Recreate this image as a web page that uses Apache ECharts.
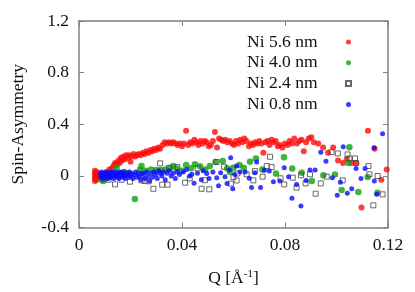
<!DOCTYPE html>
<html><head><meta charset="utf-8">
<script src="https://cdn.jsdelivr.net/npm/echarts@6/dist/echarts.min.js"></script>
<style>html,body{margin:0;padding:0;background:#fff}#c{width:415px;height:292px}</style>
</head><body><div id="c"></div>
<script>
const seriesNames = ['Ni 5.6 nm', 'Ni 4.0 nm', 'Ni 2.4 nm', 'Ni 0.8 nm'];
const xTicks = [0, 0.04, 0.08, 0.12];
const yTicks = [-0.4, 0, 0.4, 0.8, 1.2];

const ni56 = [
[0.0062,0.04],[0.0062,0.02],[0.0062,0.0],[0.0062,-0.02],[0.0062,-0.04],[0.0068,0.03],[0.0068,0.01],[0.0068,-0.01],[0.0068,-0.03],[0.0074,0.02],[0.0074,-0.01],[0.0080,0.0],
[0.0095,0.01],[0.0105,0.03],[0.0118,0.05],[0.0128,0.06],[0.0135,0.08],[0.0140,0.10],[0.0147,0.09],[0.0153,0.12],[0.0158,0.10],[0.0163,0.14],[0.0168,0.12],[0.0173,0.15],[0.0178,0.13],[0.0183,0.16],[0.0190,0.14],[0.0195,0.16],[0.0200,0.11],[0.0205,0.15],[0.0212,0.17],[0.0218,0.15],[0.0225,0.16],[0.0232,0.17],[0.0240,0.16],[0.0248,0.18],[0.0255,0.17],[0.0262,0.19],[0.0270,0.18],[0.0278,0.20],[0.0285,0.19],[0.0292,0.21],[0.0300,0.20],[0.0308,0.22],[0.0315,0.21],[0.0325,0.24],[0.0333,0.26],[0.0342,0.25],[0.0350,0.26],[0.0358,0.25],[0.0366,0.26],[0.0375,0.25],[0.0383,0.24],[0.0392,0.25],[0.0400,0.23],[0.0408,0.25],[0.0416,0.35],[0.0424,0.24],[0.0432,0.26],[0.0440,0.25],[0.0448,0.28],[0.0456,0.26],[0.0464,0.24],[0.0472,0.27],[0.0480,0.25],[0.0488,0.27],[0.0496,0.26],[0.0504,0.23],[0.0512,0.24],[0.0520,0.27],[0.0528,0.34],[0.0536,0.22],[0.0544,0.29],[0.0552,0.28],[0.0560,0.27],[0.0568,0.28],[0.0576,0.26],[0.0585,0.27],[0.0594,0.25],[0.0602,0.24],[0.0610,0.27],[0.0618,0.25],[0.0626,0.28],[0.0634,0.26],[0.0642,0.29],[0.0650,0.27],[0.0660,0.23],[0.0668,0.25],[0.0676,0.24],[0.0684,0.26],[0.0692,0.25],[0.0700,0.27],[0.0708,0.25],[0.0716,0.18],[0.0724,0.26],[0.0732,0.27],[0.0740,0.24],[0.0748,0.28],[0.0756,0.26],[0.0764,0.27],[0.0772,0.23],[0.0780,0.24],[0.0790,0.22],[0.0800,0.25],[0.0810,0.24],[0.0818,0.27],[0.0826,0.25],[0.0836,0.29],[0.0846,0.25],[0.0856,0.27],[0.0864,0.28],[0.0873,0.19],[0.0882,0.26],[0.0892,0.29],[0.0902,0.30],[0.0912,0.26],[0.0929,0.25],[0.0948,0.22],[0.0967,0.18],[0.0987,0.22],[0.1006,0.12],[0.1025,0.10],[0.1040,0.13],[0.1058,0.10],[0.1077,0.10],[0.1097,-0.245],[0.1122,0.35],[0.1148,0.21],[0.1174,-0.03],[0.1195,0.05]
];

const ni40 = [
[0.0088,-0.03],[0.0094,-0.04],[0.0100,-0.02],[0.0110,-0.01],[0.0120,0.0],[0.0135,0.02],[0.0146,0.064],[0.0160,0.02],[0.0175,0.03],[0.0190,0.02],[0.0217,-0.18],[0.0237,0.05],[0.0243,0.077],[0.0260,0.04],[0.0280,0.05],[0.0300,0.045],[0.0317,0.045],[0.0335,0.05],[0.0353,0.06],[0.0366,0.077],[0.0380,0.058],[0.0400,0.04],[0.0416,0.085],[0.0435,0.06],[0.0450,0.09],[0.0470,0.075],[0.0490,0.05],[0.0508,0.077],[0.0530,0.107],[0.0558,0.115],[0.0575,0.06],[0.0586,0.03],[0.0599,0.063],[0.0623,0.084],[0.0640,0.063],[0.0664,0.11],[0.0687,0.135],[0.0712,0.05],[0.0765,0.019],[0.0796,0.145],[0.0828,0.058],[0.0865,0.025],[0.0904,-0.04],[0.0949,0.004],[0.0994,0.01],[0.1020,-0.11],[0.1046,0.10],[0.1050,0.222],[0.1085,-0.125],[0.1121,-0.009],[0.1159,-0.13]
];

const ni24 = [
[0.0100,-0.02],[0.0115,-0.03],[0.0140,-0.066],[0.0165,-0.03],[0.0198,-0.045],[0.0243,-0.035],[0.0255,-0.04],[0.0270,-0.042],[0.0289,-0.10],[0.0315,0.097],[0.0323,-0.068],[0.0344,-0.068],[0.0350,0.063],[0.0382,0.068],[0.0412,-0.053],[0.0430,-0.02],[0.0461,0.058],[0.0476,-0.10],[0.0489,-0.033],[0.0506,-0.104],[0.0534,0.108],[0.0563,0.071],[0.0590,-0.06],[0.0600,-0.01],[0.0612,-0.035],[0.0615,0.019],[0.0651,0.012],[0.0677,-0.035],[0.0683,0.037],[0.0713,-0.006],[0.0729,0.076],[0.0742,0.148],[0.0748,0.068],[0.0783,-0.019],[0.0797,-0.066],[0.0830,-0.014],[0.0845,-0.091],[0.0862,0.004],[0.0880,-0.058],[0.0897,0.012],[0.0919,-0.138],[0.0939,-0.058],[0.0962,-0.006],[0.0981,0.184],[0.1005,0.174],[0.1024,-0.035],[0.1043,0.166],[0.1050,0.135],[0.1072,0.135],[0.1076,0.10],[0.1124,0.076],[0.1128,0.012],[0.1143,-0.228],[0.1160,-0.001],[0.1179,-0.143]
];

const ni08 = [
[0.0082,0.02],[0.0085,-0.01],[0.0088,0.03],[0.0090,0.0],[0.0093,-0.02],[0.0096,0.01],[0.0099,0.02],[0.0102,-0.01],[0.0105,0.01],[0.0108,0.03],[0.0111,0.0],[0.0114,-0.02],[0.0117,0.02],[0.0120,0.01],[0.0123,-0.01],[0.0126,0.03],[0.0129,0.0],[0.0132,0.02],[0.0135,-0.02],[0.0138,0.01],[0.0141,0.03],[0.0144,0.0],[0.0147,-0.01],[0.0150,0.02],[0.0153,0.01],[0.0156,-0.02],[0.0159,0.03],[0.0162,0.0],[0.0165,0.02],[0.0168,-0.01],[0.0171,0.01],[0.0174,0.03],[0.0177,0.0],[0.0180,-0.02],[0.0184,0.02],[0.0188,0.01],[0.0192,-0.01],[0.0196,0.03],[0.0200,0.0],[0.0205,0.02],[0.0210,-0.02],[0.0215,0.01],[0.0220,0.03],[0.0225,-0.01],[0.0230,0.02],[0.0235,0.0],[0.0240,-0.03],[0.0245,0.02],[0.0250,0.01],[0.0256,-0.02],[0.0262,0.03],[0.0268,0.0],[0.0274,-0.04],[0.0280,0.02],[0.0286,-0.01],[0.0292,0.03],[0.0298,0.01],[0.0304,-0.02],[0.0310,0.04],[0.0316,0.02],[0.0322,0.0],[0.0328,0.03],[0.0335,-0.03],[0.0342,0.02],[0.0350,0.04],[0.0358,0.0],[0.0366,0.02],[0.0374,-0.02],[0.0382,0.03],[0.0390,0.01],
[0.0405,0.03],[0.0418,0.05],[0.0430,0.0],[0.0438,0.012],[0.0447,-0.058],[0.0460,0.02],[0.0475,-0.03],[0.0482,0.04],[0.0496,0.019],[0.0505,-0.02],[0.0520,0.03],[0.0535,-0.014],[0.0542,-0.077],[0.0550,0.025],[0.0567,-0.006],[0.0575,-0.06],[0.0584,0.045],[0.0589,0.14],[0.0597,-0.1],[0.0605,0.01],[0.0612,0.076],[0.0625,0.03],[0.0645,0.03],[0.0661,-0.019],[0.0670,-0.091],[0.0683,0.025],[0.0690,0.108],[0.0705,-0.091],[0.0720,0.043],[0.0739,0.037],[0.0755,-0.045],[0.0780,-0.04],[0.0797,0.063],[0.0814,-0.006],[0.0827,-0.174],[0.0845,-0.066],[0.0862,-0.233],[0.0882,-0.035],[0.0897,0.045],[0.0917,0.045],[0.0939,0.184],[0.0959,0.114],[0.0984,-0.014],[0.1003,-0.151],[0.1015,-0.05],[0.1026,0.225],[0.1042,-0.135],[0.1059,-0.099],[0.1076,0.058],[0.1095,-0.02],[0.1111,0.058],[0.1146,0.218],[0.1147,-0.04],[0.1156,-0.143],[0.1179,0.326]
];

const FONT = '"Liberation Serif","Times New Roman",serif';
const AX = '#808080';
const chart = echarts.init(document.getElementById('c'), null, {renderer: 'canvas'});
const baseX = {
  type: 'value', min: xTicks[0], max: xTicks[xTicks.length-1], interval: 0.04,
  axisLine: {show: true, onZero: false, lineStyle: {color: AX, width: 1.5}},
  axisTick: {show: true, inside: true, length: 5, lineStyle: {color: AX, width: 1}},
  splitLine: {show: false}
};
const baseY = {
  type: 'value', min: yTicks[0], max: yTicks[yTicks.length-1], interval: 0.4,
  axisLine: {show: true, onZero: false, lineStyle: {color: AX, width: 1.5}},
  axisTick: {show: true, inside: true, length: 5, lineStyle: {color: AX, width: 1}},
  splitLine: {show: false}
};
chart.setOption({
  animation: false,
  backgroundColor: '#fff',
  grid: {left: 79, right: 27, top: 21, bottom: 64},
  legend: {
    orient: 'vertical', left: 242, top: 28, align: 'right',
    itemWidth: 5, itemHeight: 5, itemGap: 2.8,
    formatter: n => '{t|' + n + '}',
    textStyle: {fontFamily: FONT, fontSize: 17.5, color: '#111', lineHeight: 17,
      rich: {t: {fontFamily: FONT, fontSize: 17.5, color: '#111', width: 94, align: 'left', lineHeight: 17}}},
    data: seriesNames
  },
  xAxis: [
    Object.assign({}, baseX, {
      position: 'bottom',
      axisLabel: {show: true, fontFamily: FONT, fontSize: 17.5, color: '#111', margin: 9,
        formatter: v => (v === 0 ? '0' : String(+v.toFixed(2)))},
      name: 'Q [Å{sup|-1}]', nameLocation: 'middle', nameGap: 41,
      nameTextStyle: {fontFamily: FONT, fontSize: 17.5, color: '#111',
        rich: {sup: {fontFamily: FONT, fontSize: 11, color: '#111', verticalAlign: 'top', padding: [0,0,8,0]}}}
    }),
    Object.assign({}, baseX, {position: 'top', axisLabel: {show: false}})
  ],
  yAxis: [
    Object.assign({}, baseY, {
      position: 'left',
      axisLabel: {show: true, fontFamily: FONT, fontSize: 17.5, color: '#111', margin: 10,
        formatter: v => (Math.abs(v) < 1e-9 ? '0' : v.toFixed(1))},
      name: 'Spin-Asymmetry', nameLocation: 'middle', nameGap: 52,
      nameTextStyle: {fontFamily: FONT, fontSize: 17.5, color: '#111'}
    }),
    Object.assign({}, baseY, {position: 'right', axisLabel: {show: false}})
  ],
  series: [
    {name: seriesNames[0], type: 'scatter', data: ni56, symbol: 'circle', symbolSize: 6,
      itemStyle: {color: '#ff0a0a'}},
    {name: seriesNames[1], type: 'scatter', data: ni40, symbol: 'circle', symbolSize: 6.5,
      itemStyle: {color: '#0fa00f'}},
    {name: seriesNames[2], type: 'scatter', data: ni24, symbol: 'rect', symbolSize: 5,
      itemStyle: {color: 'rgba(255,255,255,0)', borderColor: '#444', borderWidth: 1}},
    {name: seriesNames[3], type: 'scatter', data: ni08, symbol: 'circle', symbolSize: 5,
      itemStyle: {color: '#0a0aff'}}
  ]
});
</script></body></html>
